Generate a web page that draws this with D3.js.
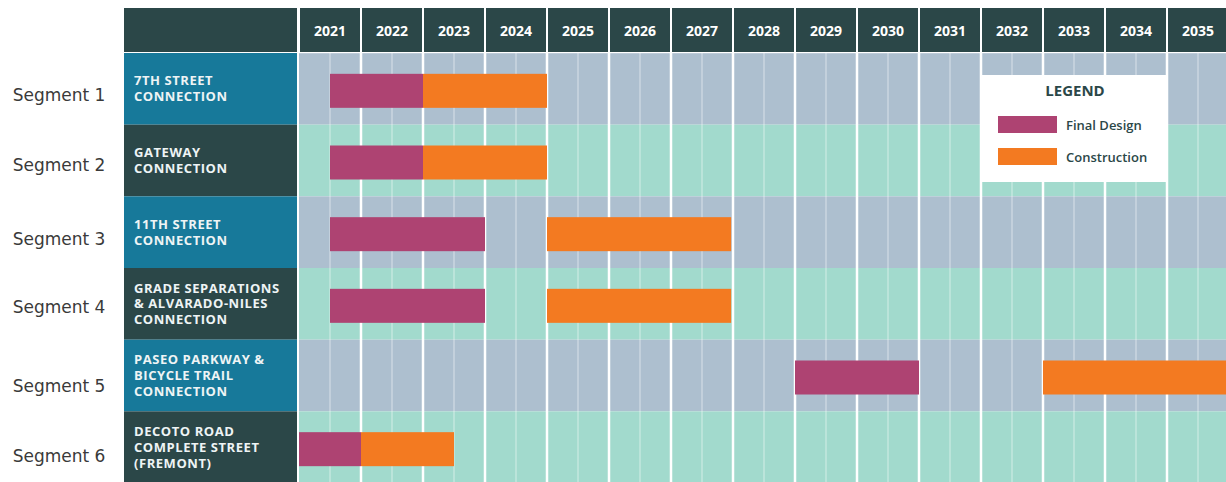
<!DOCTYPE html>
<html lang="en">
<head>
<meta charset="UTF-8">
<title>Segment schedule</title>
<script src="https://d3js.org/d3.v7.min.js"></script>
<style>
  body { margin: 0; background: #fff; }
  svg { display: block; }
</style>
</head>
<body>
<svg></svg>
<script>
  // data
  const years = [2021, 2022, 2023, 2024, 2025, 2026, 2027, 2028, 2029, 2030, 2031, 2032, 2033, 2034, 2035]
  const segments = ['Segment 1', 'Segment 2', 'Segment 3', 'Segment 4', 'Segment 5', 'Segment 6']
  const projects = [
    ['7TH STREET', 'CONNECTION'],
    ['GATEWAY', 'CONNECTION'],
    ['11TH STREET', 'CONNECTION'],
    ['GRADE SEPARATIONS', '& ALVARADO-NILES', 'CONNECTION'],
    ['PASEO PARKWAY &', 'BICYCLE TRAIL', 'CONNECTION'],
    ['DECOTO ROAD', 'COMPLETE STREET', '(FREMONT)']
  ]
  // [start, end] in years
  const finalDesign = [[2021.5, 2023], [2021.5, 2023], [2021.5, 2024], [2021.5, 2024], [2029, 2031], [2021, 2022]]
  const construction = [[2023, 2025], [2023, 2025], [2025, 2027.97], [2025, 2027.97], [2033, 2036], [2022, 2023.5]]
  const phases = ['Final Design', 'Construction']

  const width = 1226
  const height = 482

  // the "Segment n" labels sit a little below the row middle, not evenly
  const labelNudge = [6, 5, 7, 3, 11, 9]
  const lineH = 15.8

  const color = d3.scaleOrdinal().domain(phases).range(['#ae4372', '#f37a21'])

  const x = d3.scaleLinear().domain([2021, 2036]).range([299, 1229])
  const y = d3.scaleBand().domain(segments).range([53, 483])

  const svg = d3.select('svg').attr('width', width).attr('height', height)

  // header
  svg.append('rect').attr('x', 124).attr('y', 8).attr('width', 173).attr('height', 44).attr('fill', '#2b4748')
  const head = svg.append('g').selectAll('g').data(years).join('g')
  head.append('rect')
    .attr('x', d => x(d) + 1)
    .attr('y', 8)
    .attr('width', d => x(d + 1) - x(d) - 2)
    .attr('height', 44)
    .attr('fill', '#2b4748')
  head.append('text')
    .attr('x', d => (x(d) + x(d + 1)) / 2)
    .attr('y', 31)
    .attr('dy', '0.35em')
    .attr('text-anchor', 'middle')
    .attr('fill', '#fff')
    .style('font', 'bold 14px "Open Sans", sans-serif')
    .text(d => d)

  // row backgrounds
  svg.append('g').selectAll('rect').data(segments).join('rect')
    .attr('x', 297)
    .attr('y', d => y(d))
    .attr('width', width - 297)
    .attr('height', y.bandwidth())
    .attr('fill', (d, i) => i % 2 === 0 ? '#adbfcf' : '#a2dacd')

  // label cells
  svg.append('g').selectAll('rect').data(segments).join('rect')
    .attr('x', 124)
    .attr('y', d => y(d))
    .attr('width', 173)
    .attr('height', y.bandwidth())
    .attr('fill', (d, i) => i % 2 === 0 ? '#17799a' : '#2b4748')

  // white gap between labels and grid
  svg.append('rect').attr('x', 297).attr('y', 8).attr('width', 2).attr('height', height).attr('fill', '#fff')

  // grid lines
  const grid = svg.append('g')
  grid.selectAll('line.yr').data(years.slice(1)).join('line')
    .attr('class', 'yr')
    .attr('x1', d => x(d)).attr('x2', d => x(d))
    .attr('y1', 52).attr('y2', height)
    .attr('stroke', '#fff').attr('stroke-width', 2.5)
  grid.selectAll('line.half').data(years).join('line')
    .attr('class', 'half')
    .attr('x1', d => x(d + 0.5)).attr('x2', d => x(d + 0.5))
    .attr('y1', 53).attr('y2', height)
    .attr('stroke', '#fff').attr('stroke-opacity', 0.55).attr('stroke-width', 1)
  svg.append('rect').attr('x', 297).attr('y', 52).attr('width', width).attr('height', 1.2).attr('fill', '#fff')

  // bars
  const barH = 34
  const bars = svg.append('g')
  const drawPhase = (arr, name) => {
    bars.append('g').selectAll('rect').data(arr).join('rect')
      .attr('x', d => x(d[0]))
      .attr('y', (d, i) => y(segments[i]) + (y.bandwidth() - barH) / 2 + 2)
      .attr('width', d => x(d[1]) - x(d[0]))
      .attr('height', barH)
      .attr('fill', color(name))
  }
  drawPhase(finalDesign, 'Final Design')
  drawPhase(construction, 'Construction')

  // project names in cells
  svg.append('g').selectAll('text').data(projects).join('text')
    .attr('x', 134)
    .attr('y', (d, i) => y(segments[i]) + y.bandwidth() / 2 - (d.length - 1) * lineH / 2)
    .attr('fill', '#eef4f5')
    .style('font', 'bold 13px "Open Sans", sans-serif')
    .style('letter-spacing', '0.55px')
    .each(function (d) {
      d3.select(this).selectAll('tspan').data(d).join('tspan')
        .attr('x', 134)
        .attr('dy', (t, j) => j === 0 ? '0.35em' : lineH)
        .text(t => t)
    })

  // segment names
  svg.append('g').selectAll('text').data(segments).join('text')
    .attr('x', 59)
    .attr('y', (d, i) => y(d) + y.bandwidth() / 2 + labelNudge[i])
    .attr('dy', '0.35em')
    .attr('text-anchor', 'middle')
    .attr('fill', '#3a3a3a')
    .style('font', '17px "DejaVu Sans", sans-serif')
    .text(d => d)

  // legend
  const lg = svg.append('g')
  lg.append('rect').attr('x', 981).attr('y', 75).attr('width', 186).attr('height', 107).attr('fill', '#fff')
  lg.append('text')
    .attr('x', 1075).attr('y', 91).attr('dy', '0.35em')
    .attr('text-anchor', 'middle')
    .attr('fill', '#2b4748')
    .style('font', 'bold 15px "Open Sans", sans-serif')
    .text('LEGEND')
  const item = lg.selectAll('g').data(phases).join('g')
    .attr('transform', (d, i) => `translate(998,${116 + i * 32})`)
  item.append('rect').attr('width', 59).attr('height', 17).attr('fill', d => color(d))
  item.append('text')
    .attr('x', 68).attr('y', 9).attr('dy', '0.35em')
    .attr('fill', '#2b4748')
    .style('font', '600 13px "Open Sans", sans-serif')
    .text(d => d)
</script>
</body>
</html>
